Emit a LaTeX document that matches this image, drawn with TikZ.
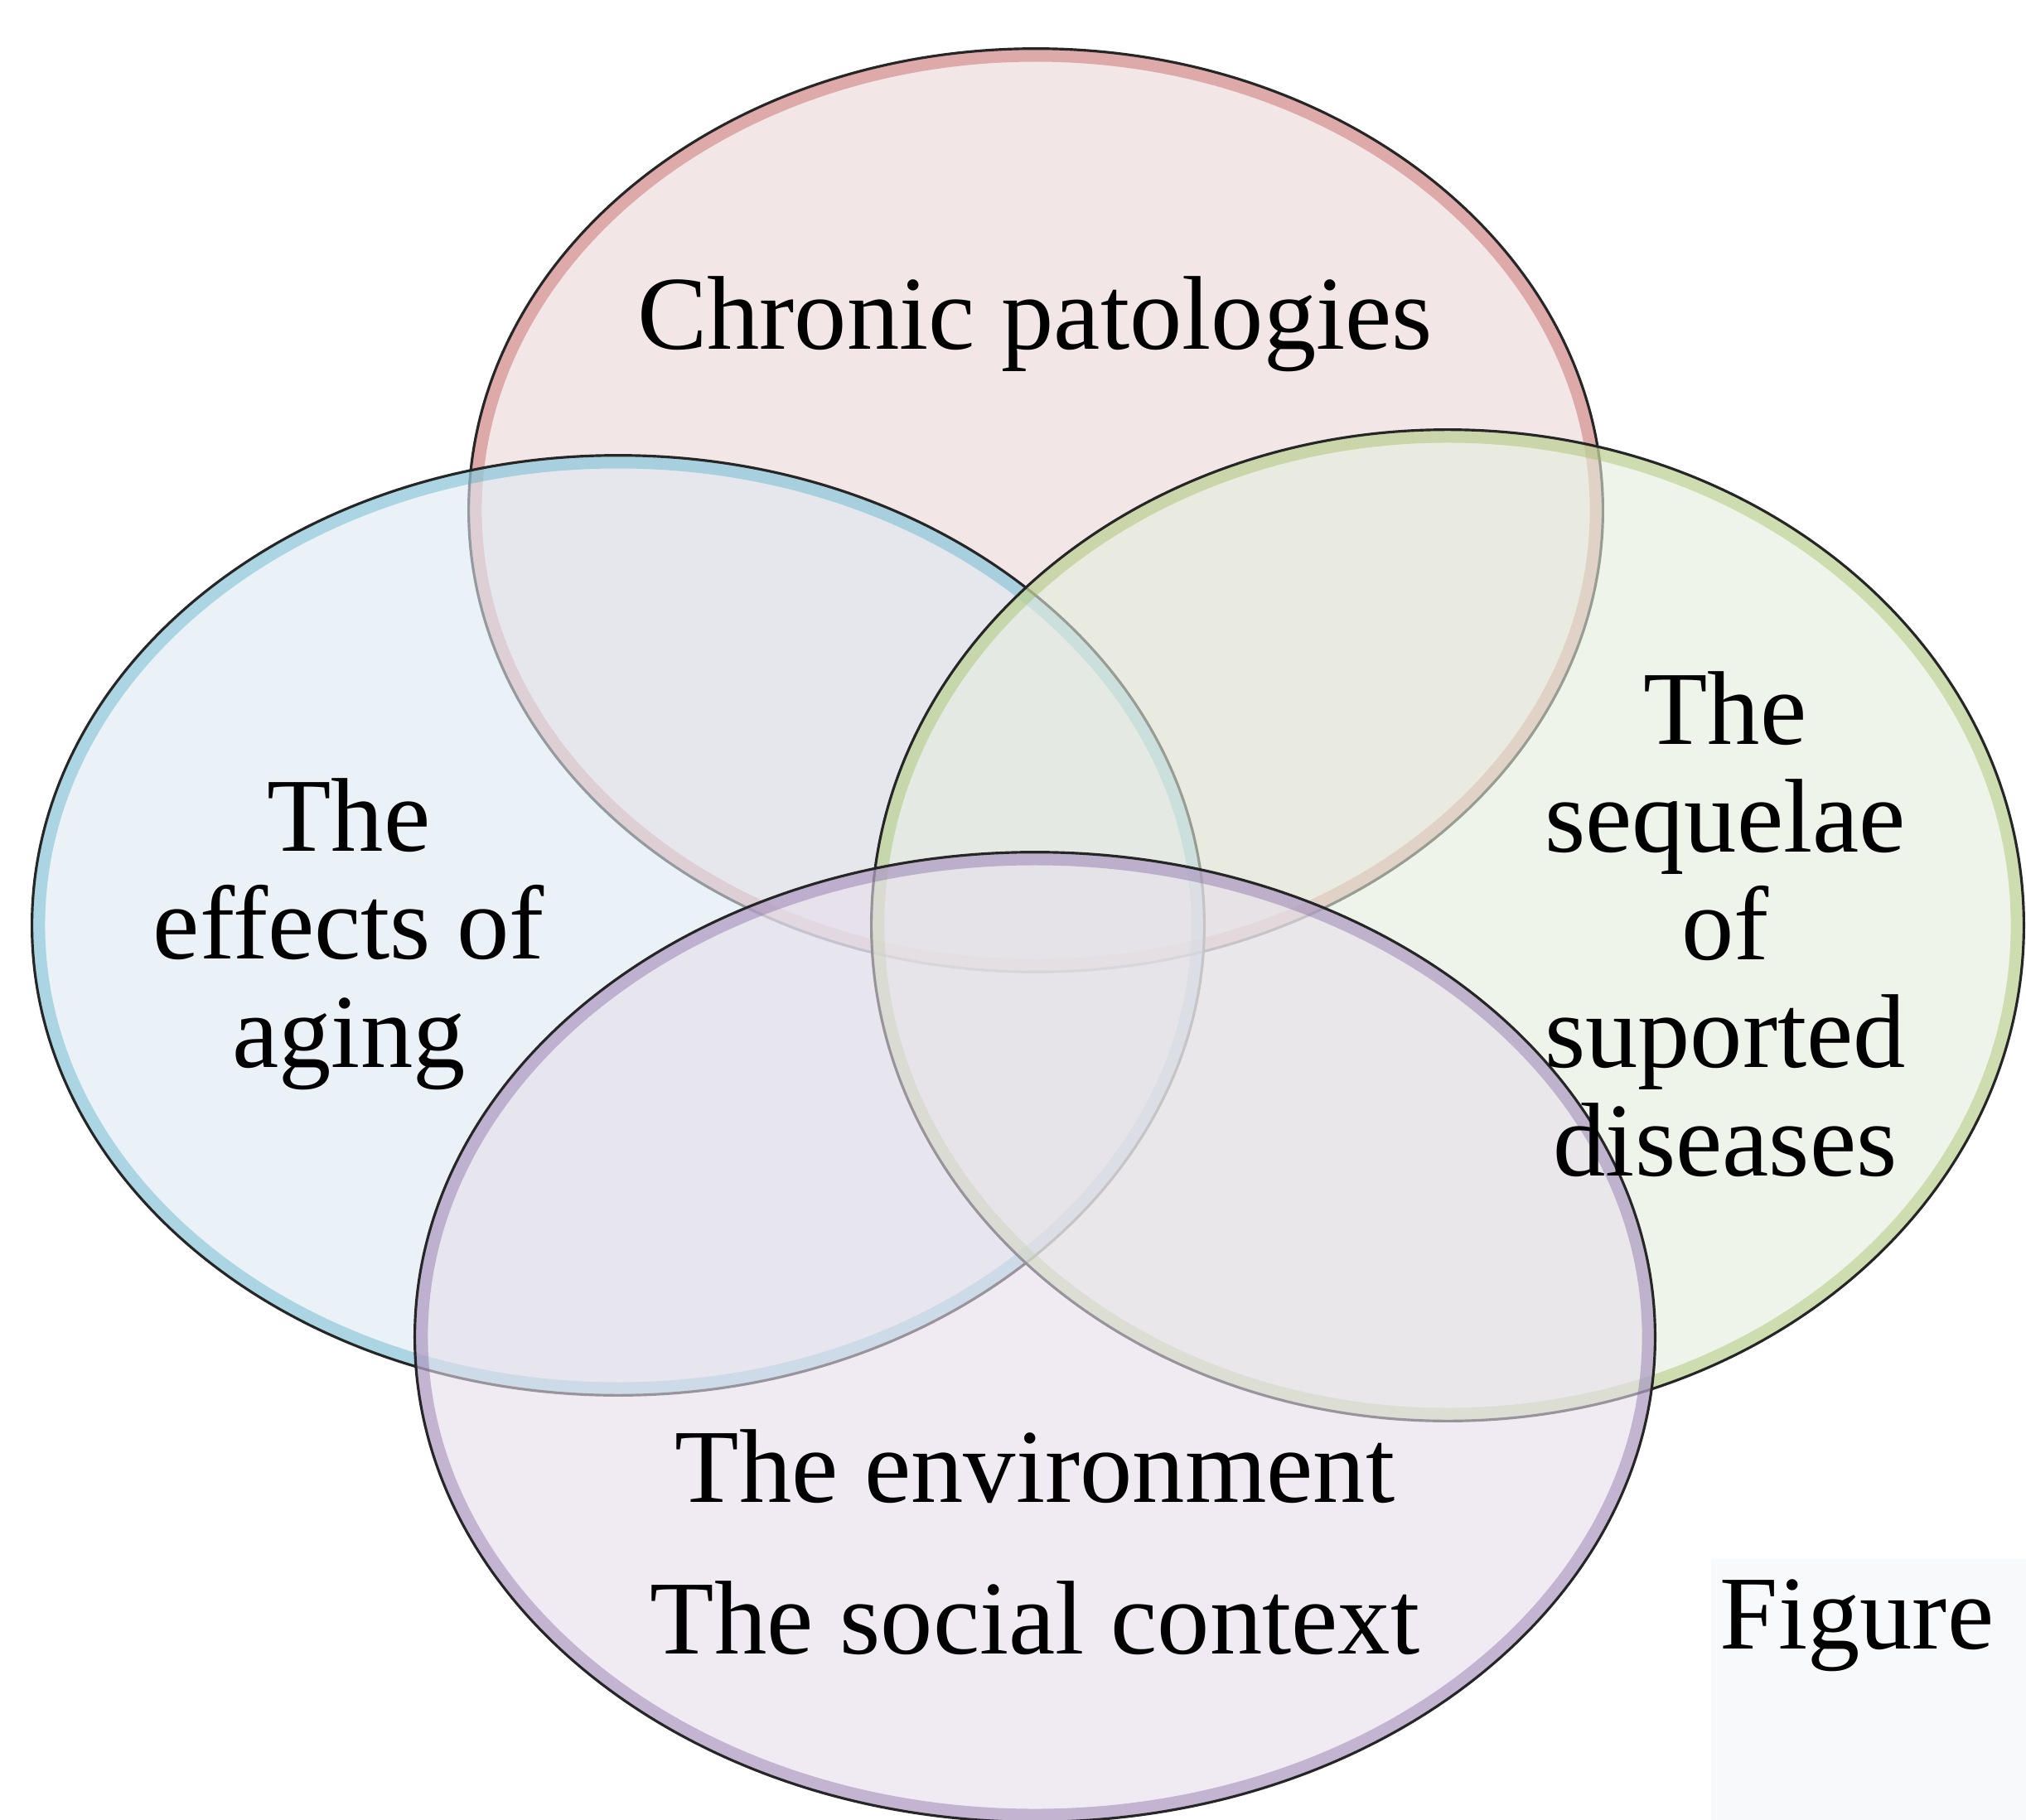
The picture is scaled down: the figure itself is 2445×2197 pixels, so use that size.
\documentclass[tikz,border=0pt]{standalone}
\usepackage{fontspec}
\setmainfont{Liberation Serif}
\usetikzlibrary{positioning}
\definecolor{venn-red}{HTML}{C0504D}
\definecolor{venn-blue}{HTML}{4BACC6}
\definecolor{venn-green}{HTML}{9BBB59}
\definecolor{venn-purple}{HTML}{8064A2}
\definecolor{venn-red-fill}{HTML}{E9D5D7}
\definecolor{venn-blue-fill}{HTML}{DEE9F2}
\definecolor{venn-green-fill}{HTML}{E4EDDC}
\definecolor{venn-purple-fill}{HTML}{E6DEEB}
\definecolor{panel-gray}{HTML}{F8F9FA}

\begin{document}
\begin{tikzpicture}[x=0.01cm, y=-0.01cm, font=\fontsize{36}{37}\selectfont]
\useasboundingbox (0,0) rectangle (2445,2197);

\fill[panel-gray] (2065,1882) rectangle (2445,2197);

% the four rings
\foreach \cx/\cy/\rx/\ry/\name in {1250/616/6.84/5.57/red, 746/1117/7.07/5.67/blue,
    1747/1117/6.95/5.98/green, 1249/1614/7.48/5.85/purple} {
  \fill[venn-\name-fill, fill opacity=0.6] (\cx,\cy) ellipse [x radius=\rx cm, y radius=\ry cm];
  \begin{scope}
    \clip (\cx,\cy) ellipse [x radius=\rx cm, y radius=\ry cm];
    \draw[venn-\name, line width=9pt, opacity=0.4] (\cx,\cy) ellipse [x radius=\rx cm, y radius=\ry cm];
  \end{scope}
  \draw[black!85, line width=0.9pt] (\cx,\cy) ellipse [x radius=\rx cm, y radius=\ry cm];
}

% base = baseline of the last line
\node[anchor=base] (chronic) at (1249,421) {Chronic patologies};
\node[anchor=base, align=center] (aging) at (421,1288) {The\\effects of\\aging};
\node[anchor=base, align=center] (sequelae) at (2082,1419) {The\\sequelae\\of\\suported\\diseases};
\node[anchor=base] (environment) at (1249,1813) {The environment};
\node[anchor=base] (social) at (1249,1996) {The social context};
\node[anchor=base west, inner sep=0pt] (figure) at (2075,1990) {Figure};
\end{tikzpicture}
\end{document}
